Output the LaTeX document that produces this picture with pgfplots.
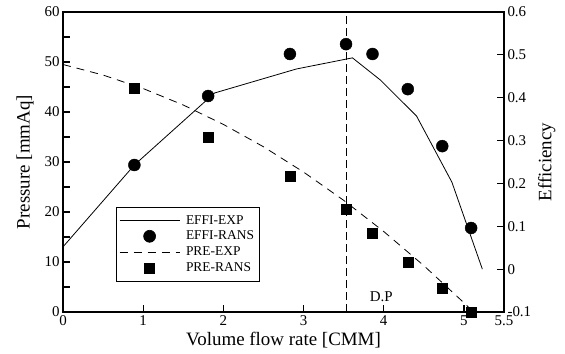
\documentclass[border=0pt]{standalone}
\usepackage{pgfplots}
\pgfplotsset{compat=1.18}
\usepackage{fontspec}
\setmainfont{Liberation Serif}

\pgfplotsset{
 lineleg/.style={legend image code/.code={\draw[##1] (0bp,0bp) -- (60bp,0bp);}},
 markleg/.style={legend image code/.code={\draw[##1] plot coordinates {(30bp,0bp)};}},
}
\begin{document}
\begin{tikzpicture}
\pgfplotsset{
 every axis/.append style={
  scale only axis, width=441bp, height=300bp, xmin=0, xmax=5.5,
  tick align=inside, major tick length=7bp, minor tick length=7bp,
  every tick/.style={line width=1.2bp, black},
  axis line style={line width=1.5bp},
  /pgf/number format/assume math mode=true,
  tick label style={font=\fontsize{15}{15}\selectfont},
  label style={font=\fontsize{19}{19}\selectfont},
 }
}
\begin{axis}[
 ymin=0, ymax=60,
 xtick={0,1,2,3,4,5,5.5}, xticklabels={0,1,2,3,4,5,5.5},
 ytick={0,10,20,30,40,50,60}, minor y tick num=1,
 xtick pos=bottom, ytick pos=left,
 xlabel={Volume flow rate [CMM]}, ylabel={Pressure [mmAq]},
 ylabel style={yshift=4bp},
]
\coordinate (sw) at (rel axis cs:0,0);
\addplot[black, line width=0.8bp, dash pattern=on 8bp off 6bp] coordinates {
 (0,49.5) (0.5,47.39) (1,44.69) (1.5,41.40) (2,37.52) (2.5,33.05) (3,27.99)
 (3.5,22.34) (4,16.10) (4.5,9.27) (5,1.85) (5.12,0)};
\addplot[only marks, mark=square*, mark size=5bp, black] coordinates {
 (0.89,44.8) (1.81,35.0) (2.83,27.2) (3.53,20.6) (3.86,15.8) (4.30,10.0) (4.73,4.8) (5.09,0.0)};
\addplot[black, line width=0.6bp, dash pattern=on 8bp off 4bp] coordinates {(3.53,0) (3.53,60)};
\node[font=\fontsize{15}{15}\selectfont] at (axis cs:3.97,3.0) {D.P};
\end{axis}
\begin{axis}[
 ymin=-0.1, ymax=0.6,
 axis x line=none, axis y line*=right,
 ytick={-0.1,0,0.1,0.2,0.3,0.4,0.5,0.6},
 yticklabels={-0.1,0,0.1,0.2,0.3,0.4,0.5,0.6},
 ylabel={Efficiency},
 legend style={at={(0.12,0.35)}, anchor=north west, draw=black, line width=0.6bp,
   font=\fontsize{13.5}{13.5}\selectfont, row sep=1.5bp, inner xsep=3bp, inner ysep=6bp,
   /tikz/every odd column/.append style={column sep=4bp}},
 legend cell align=left,
]
\addplot[black, line width=0.8bp, lineleg] coordinates {
 (0,0.052) (0.89,0.243) (1.89,0.411) (2.91,0.467) (3.61,0.493) (3.96,0.441)
 (4.41,0.357) (4.85,0.203) (5.23,0.0)};
\addlegendentry{EFFI-EXP}
\addplot[only marks, mark=*, mark size=6bp, black, markleg] coordinates {
 (0.89,0.243) (1.81,0.404) (2.83,0.502) (3.53,0.525) (3.86,0.502) (4.30,0.420) (4.73,0.287) (5.09,0.096)};
\addlegendentry{EFFI-RANS}
\addlegendimage{black, line width=0.8bp, dash pattern=on 8bp off 6bp, lineleg}
\addlegendentry{PRE-EXP}
\addlegendimage{only marks, mark=square*, mark size=5bp, black, markleg}
\addlegendentry{PRE-RANS}
\end{axis}
\pgfresetboundingbox
\path (sw) ++(-63bp,-42bp) rectangle ++(565bp,354bp);
\end{tikzpicture}
\end{document}
